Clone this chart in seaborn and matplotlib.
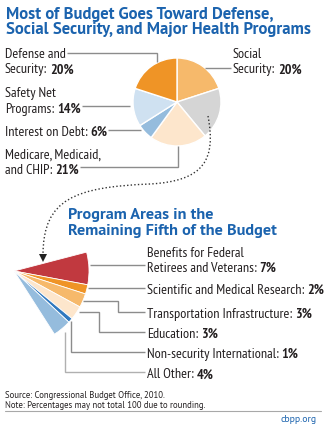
import numpy as np
import matplotlib
matplotlib.use("Agg")
import matplotlib.pyplot as plt
import seaborn as sns
from matplotlib.path import Path
from matplotlib.patches import PathPatch

# Share of the federal budget, drawn clockwise from 12 o'clock
main_labels = ["Social Security", "Remaining programs", "Medicare, Medicaid, and CHIP",
               "Interest on Debt", "Safety Net Programs", "Defense and Security"]
main_shares = [20, 19, 21, 6, 14, 20]
main_colors = ["#f6b96b", "#d5d5d5", "#fde6cc", "#95bcdd", "#cfe1f1", "#ef9426"]

# Break-down of the remaining fifth
fan_labels = ["Benefits for Federal Retirees and Veterans", "Scientific and Medical Research",
              "Transportation Infrastructure", "Education", "Non-security International", "All Other"]
fan_shares = [7, 2, 3, 3, 1, 4]
fan_colors = ["#c1393f", "#ef9426", "#f6b96b", "#fde6cc", "#2f78bf", "#95bcdd"]

title_main = ["Most of Budget Goes Toward Defense,", "Social Security, and Major Health Programs"]
title_fan = ["Program Areas in the", "Remaining Fifth of the Budget"]
source_lines = ["Source: Congressional Budget Office, 2010.",
                "Note: Percentages may not total 100 due to rounding."]

sns.set_theme(style="white")
LABEL_FONT = ["PT Sans Narrow", "Fira Sans Condensed", "Roboto Condensed",
              "Archivo Narrow", "DejaVu Sans"]
TITLE_FONT = ["Source Sans Pro", "PT Sans", "Open Sans", "DejaVu Sans"]
plt.rcParams["font.family"] = LABEL_FONT

BLUE = "#1b63ae"
TEXT = "#231f20"
LEAD = "#8c8c8c"

W, H = 326, 431
fig = plt.figure(figsize=(W / 100, H / 100), dpi=100)
fig.patch.set_facecolor("white")
ax = fig.add_axes([0, 0, 1, 1])


def Y(y):
    return H - np.asarray(y, dtype=float)


wp = dict(edgecolor="white", linewidth=1.0)
ax.pie(main_shares, colors=main_colors, startangle=90, counterclock=False,
       center=(177, float(Y(103))), radius=44, wedgeprops=wp)
ax.pie(np.array(fan_shares) / 100.0, normalize=False, colors=fan_colors,
       startangle=14.6, counterclock=False, center=(14, float(Y(272))),
       radius=75, wedgeprops=dict(edgecolor="white", linewidth=0.6))

ax.set_xlim(0, W)
ax.set_ylim(0, H)
ax.set_aspect("auto")
ax.axis("off")


def lead(xs, ys, color=LEAD):
    ax.plot(xs, Y(ys), color=color, lw=1.0, solid_capstyle="butt", solid_joinstyle="miter")


def label(x, y_base, lines, value, size=10.2, gap=15.5):
    t = None
    for i, line in enumerate(lines):
        t = ax.text(x, float(Y(y_base + i * gap)), line, fontsize=size, va="baseline",
                    ha="left", color=TEXT)
    ax.annotate(f"{value}%", xy=(1, 0), xycoords=t, xytext=(2.0, 0),
                textcoords="offset points", va="bottom", ha="left",
                fontsize=size, fontweight="bold", color=TEXT)


# Titles
for i, line in enumerate(title_main):
    ax.text(6, float(Y(18.5 + 15.5 * i)), line, fontsize=11.95, fontweight="bold",
            color=BLUE, family=TITLE_FONT, va="baseline", ha="left")
for i, line in enumerate(title_fan):
    ax.text(68, float(Y(219.5 + 15.5 * i)), line, fontsize=11.7, fontweight="bold",
            color=BLUE, family=TITLE_FONT, va="baseline", ha="left")

# Main pie labels and leaders
sh = dict(zip(main_labels, main_shares))
label(5, 58, ["Defense and", "Security:"], sh["Defense and Security"])
lead([67, 157, 157], [54, 54, 63])
label(233, 58, ["Social", "Security:"], sh["Social Security"])
lead([205, 231], [69, 69])
label(5, 97, ["Safety Net", "Programs:"], sh["Safety Net Programs"])
lead([82, 130], [107, 107])
label(5, 135.5, ["Interest on Debt:"], sh["Interest on Debt"])
lead([108, 141], [131, 131])
label(5, 158.5, ["Medicare, Medicaid,", "and CHIP:"], sh["Medicare, Medicaid, and CHIP"])
lead([80, 178, 178], [168, 168, 147])

# Fan labels and leaders
fs = dict(zip(fan_labels, fan_shares))
FX = 147
label(FX, 257, ["Benefits for Federal", "Retirees and Veterans:"],
      fs["Benefits for Federal Retirees and Veterans"], gap=14.5)
lead([90, 145], [266, 266])
label(FX, 294, ["Scientific and Medical Research:"], fs["Scientific and Medical Research"])
lead([88, 145], [289, 289])
label(FX, 318, ["Transportation Infrastructure:"], fs["Transportation Infrastructure"])
lead([83, 117.5, 117.5, 145], [302, 302, 313, 313])
label(FX, 338, ["Education:"], fs["Education"])
lead([79, 98.5, 98.5, 145], [313, 313, 333, 333])
label(FX, 358, ["Non-security International:"], fs["Non-security International"])
lead([70.5, 70.5, 145], [322, 353, 353])
label(FX, 378.5, ["All Other:"], fs["All Other"])
lead([65, 65, 145], [333, 373, 373], color="#b0b0b0")

# Dotted connector from the grey slice to the fan
verts = [(208, 117), (216, 160), (205, 182), (150, 185),
         (75, 188), (43, 200), (43, 256)]
codes = [Path.MOVETO, Path.CURVE4, Path.CURVE4, Path.CURVE4,
         Path.CURVE4, Path.CURVE4, Path.CURVE4]
verts = [(x, float(Y(y))) for x, y in verts]
ax.add_patch(PathPatch(Path(verts, codes), fill=False, edgecolor="#333333",
                       lw=1.0, linestyle=(0, (1, 1.6))))
ax.plot([43], [float(Y(259))], marker="v", markersize=5.5, color="#222222",
        markeredgewidth=0)

# Footer
for i, line in enumerate(source_lines):
    ax.text(5, float(Y(398.3 + 9.3 * i)), line, fontsize=6.3, color=TEXT,
            family=TITLE_FONT, va="baseline", ha="left")
ax.plot([5, 321], Y([412.3, 412.3]), color="#a8a8a8", lw=0.8)
ax.text(317, float(Y(421.7)), "cbpp.org", fontsize=7, color=BLUE,
        family=TITLE_FONT, va="baseline", ha="right")

fig.savefig("out.png", dpi=100, facecolor="white")
